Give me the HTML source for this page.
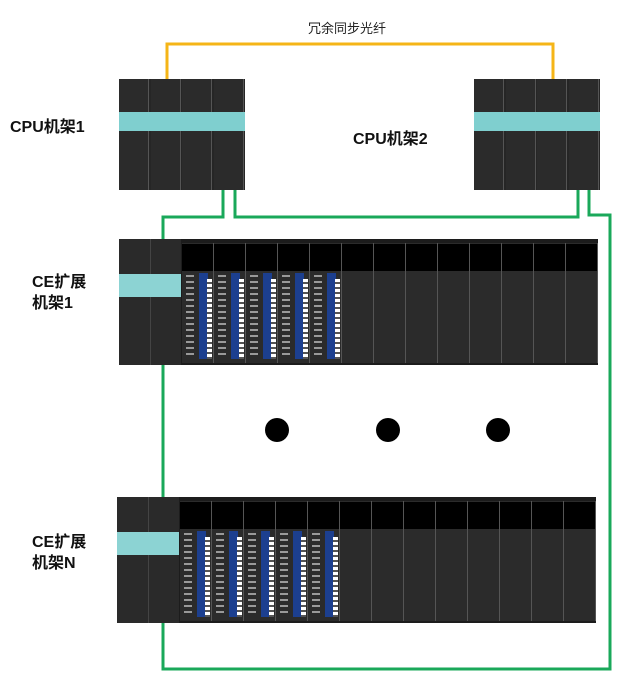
<!DOCTYPE html>
<html><head><meta charset="utf-8">
<style>
body{margin:0;width:640px;height:690px;background:#fff;position:relative;overflow:hidden;font-family:"Liberation Sans","Noto Sans CJK SC",sans-serif}
.a{position:absolute}
.lbl{position:absolute;font-weight:bold;font-size:16px;color:#111;line-height:20px}
</style></head><body>
<svg class="a" style="left:0;top:0" width="640" height="690">
<polyline points="167,80 167,44 553,44 553,80" fill="none" stroke="#f5b517" stroke-width="3"/>
<polyline points="223,190 223,217 163,217 163,240" fill="none" stroke="#1aa85a" stroke-width="3"/>
<polyline points="235,190 235,217 578,217 578,190" fill="none" stroke="#1aa85a" stroke-width="3"/>
<polyline points="589,190 589,215 610,215 610,669 163,669 163,622" fill="none" stroke="#1aa85a" stroke-width="3"/>
<line x1="163" y1="364" x2="163" y2="499" stroke="#1aa85a" stroke-width="3"/>
<circle cx="277" cy="430" r="12" fill="#000"/>
<circle cx="388" cy="430" r="12" fill="#000"/>
<circle cx="498" cy="430" r="12" fill="#000"/>
</svg>
<div class="a" style="left:308px;top:18px;font-size:13px;color:#222">冗余同步光纤</div>
<div class="lbl" style="left:10px;top:118px">CPU机架1</div>
<div class="lbl" style="left:353px;top:130px">CPU机架2</div>
<div class="lbl" style="left:32px;top:273px">CE扩展</div>
<div class="lbl" style="left:32px;top:294px">机架1</div>
<div class="lbl" style="left:32px;top:533px">CE扩展</div>
<div class="lbl" style="left:32px;top:554px">机架N</div>
<div id="c"></div>
<script>
var c=document.getElementById('c'),h='';
function box(x,y,w,hh,st){h+='<div class="a" style="left:'+x+'px;top:'+y+'px;width:'+w+'px;height:'+hh+'px;'+(st||'')+'"></div>';}
function cpu(x){box(x,79,126,111,'background:#262626');
 for(var i=0;i<4;i++){box(x+i*31.5,79,30,111,'background:#2b2b2b;border-right:1px solid #555;box-sizing:border-box');}
 box(x,112,126,19,'background:#7fcfcf');}
cpu(119);cpu(474);
function rack(x,y,w,hh){box(x,y,w,hh,'background:#1c1c1c');
 box(x,y,62,hh,'background:#2a2a2a');box(x+31,y,1,hh,'background:#444');
 box(x,y+35,62,23,'background:#8cd3d3');
 for(var i=0;i<13;i++){var mx=x+63+i*32;
  box(mx,y+4,31,hh-6,'background:#2b2b2b');
  box(mx,y+5,31,27,'background:#000');
  if(i<5){box(mx+17,y+34,9,hh-40,'background:#1c3f8f');
   box(mx+25,y+40,5,hh-46,'background:repeating-linear-gradient(#fff 0 3px,#555 3px 5px)');
   box(mx+4,y+36,8,hh-42,'background:repeating-linear-gradient(#999 0 2px,#2b2b2b 2px 6px)');}
  box(mx+31,y+4,1,hh-6,'background:#555');}
}
rack(119,239,479,126);rack(117,497,479,126);
c.innerHTML=h;
</script>
</body></html>
